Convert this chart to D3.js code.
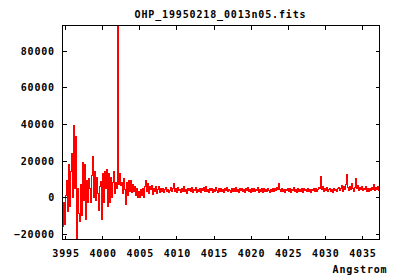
<!DOCTYPE html>
<html>
<head>
<meta charset="utf-8">
<script src="https://cdn.jsdelivr.net/npm/d3@7"></script>
<style>
  html, body { margin: 0; padding: 0; background: #fff; }
  svg { display: block; }
  text { font-family: "DejaVu Sans Mono", monospace; font-weight: bold; font-size: 10px; letter-spacing: 0.85px; fill: #000; }
</style>
</head>
<body>
<script>
// ---- data ----
const titleText = "OHP_19950218_0013n05.fits";
const xLabel = "Angstrom";
const startWave = 3994.6;       // first sample wavelength (Angstrom)
const waveStep = 0.1348;        // linear dispersion (Angstrom per sample)
const xTicks = [3995, 4000, 4005, 4010, 4015, 4020, 4025, 4030, 4035];
const yTicks = [-20000, 0, 20000, 40000, 60000, 80000];
const xDomain = [3994.64, 4037.36];
const yDomain = [-23030, 93750];
const flux = [
  -16000, -3000, -15000, 1000, 9000, -8000, 18000, -5000, 14000, 24000,
  0, 39000, 5000, 33000, -23500, 5000, -9000, -13000, 7000, -10000,
  19000, -2000, 18000, -12000, 9000, -3000, 10000, 5000, -3000, 12000,
  22000, 0, 14000, -2000, 11000, 2000, -7000, 6000, 8500, -12000,
  13000, -3000, 14000, 5000, 15000, -5000, 13000, -3000, 11000, 0,
  8000, 14000, 2000, 8000, 5000, 93700, 7000, 13000, 6700, 8000,
  2000, 10000, 4000, -4000, 8000, 1000, 9000, 3000, 9000, 2500,
  7000, 3000, 6000, 1000, 5000, 0, 3000, 0, 4000, 1000,
  5000, 0, 6000, 9400, 3000, 7800, 2300, 6000, 4000, 6700,
  1300, 5000, 3000, 6000, 2000, 4500, 6000, 2500,
  5000, 3200, 4800, 2600, 4200, 5600, 3000, 4400, 2400, 3800,
  5200, 3400, 4600, 7300, 3000, 4800, 2800, 5400, 3600, 4200,
  2600, 4800, 3400, 5800, 3000, 4400, 2200, 5000, 3800, 4600,
  3000, 5200, 2800, 4200, 3600, 5600, 2600, 4400, 3200, 4800,
  2400, 4600, 3800, 5200, 3000, 6000, 3400, 4200, 2600, 5000,
  3600, 4800, 2800, 4400, 3200, 5400, 3800, 2600, 4600, 3400,
  5000, 3000, 4200, 2400, 4800, 3600, 5200, 3000, 4400, 3800,
  2800, 5000, 3400, 4600, 3000, 5600, 3200, 4200, 2600, 4800,
  3600, 5000, 3000, 4400, 2800, 4600, 3800, 5200, 3200, 4000,
  2600, 4800, 3400, 5000, 3000, 4200, 3600, 5400, 2800, 4400,
  3200, 4600, 2600, 5000, 3400, 4200, 3000, 4800, 3600, 2800,
  4400, 3200, 5000, 3000, 4600, 3800, 5400, 4000, 7600, 4200,
  3400, 4800, 3000, 4400, 2600, 4200, 3600, 5000, 3000, 4600,
  2800, 4400, 3600, 5200, 3200, 4000, 2600, 4800, 3400, 4200,
  3000, 4600, 2800, 5000, 3600, 4200, 3000, 4800, 3400, 4000,
  2800, 4400, 3600, 5000, 3200, 4600, 3000, 4200, 5200, 4800,
  11600, 4400, 5800, 3200, 4600, 3600, 5200, 3000, 4200, 4800,
  3200, 4400, 2800, 5000, 3600, 4200, 3000, 4600, 5400, 3800,
  4600, 6400, 3400, 5800, 4200, 6800, 12200, 5200, 3600, 6000,
  4400, 7800, 5000, 3400, 5600, 10400, 4800, 6600, 3800, 5400,
  4200, 6000, 3600, 5000, 4400, 5800, 3200, 4600, 3000, 4800,
  3600, 5200, 4400, 7100, 3800, 5600, 4200, 5800, 3600, 4800
];

// ---- layout ----
const W = 400, H = 280;
const L = 62.5, R = 379.5, T = 25.5, B = 239.5;

const svg = d3.select("body").append("svg").attr("width", W).attr("height", H);

const x = d3.scaleLinear().domain(xDomain).range([L, R]);
const y = d3.scaleLinear().domain(yDomain).range([B, T]);

const pts = flux.map((v, i) => ({ w: startWave + i * waveStep, f: v }));

svg.append("defs").append("clipPath").attr("id", "clip")
  .append("rect").attr("x", L).attr("y", T).attr("width", R - L).attr("height", B - T);

svg.append("path")
  .datum(pts)
  .attr("clip-path", "url(#clip)")
  .attr("fill", "none")
  .attr("stroke", "#ff0000")
  .attr("stroke-width", 1)
  .attr("shape-rendering", "crispEdges")
  .attr("d", d3.line()
    .x(d => Math.floor(x(d.w)) + 0.5)
    .y(d => Math.floor(y(d.f)) + 0.5)
    .curve(d3.curveStepAfter));

// axes (ticks inward, mirrored)
const gB = svg.append("g").attr("transform", `translate(0,${B})`)
  .call(d3.axisBottom(x).tickValues(xTicks).tickSize(-4).tickFormat(d3.format("d")));
gB.selectAll("text").attr("y", 17.5).attr("dy", 0).attr("dx", "0.4px");
const gT = svg.append("g").attr("transform", `translate(0,${T})`)
  .call(d3.axisTop(x).tickValues(xTicks).tickSize(-4).tickFormat(""));
const gL = svg.append("g").attr("transform", `translate(${L},0)`)
  .call(d3.axisLeft(y).tickValues(yTicks).tickSize(-4).tickFormat(d3.format("d")));
gL.selectAll("text").attr("x", -7.5).attr("dy", "0.36em");
const gR = svg.append("g").attr("transform", `translate(${R},0)`)
  .call(d3.axisRight(y).tickValues(yTicks).tickSize(-4).tickFormat(""));

[gB, gT, gL, gR].forEach(g => {
  g.select(".domain").remove();
  g.selectAll("line").attr("stroke", "#000").attr("shape-rendering", "crispEdges");
  g.selectAll("text").style("font-family", null).style("font-size", null)
    .attr("font-family", null).attr("font-size", null).attr("fill", "#000");
});

// frame
svg.append("rect").attr("x", L).attr("y", T).attr("width", R - L).attr("height", B - T)
  .attr("fill", "none").attr("stroke", "#000").attr("stroke-width", 1)
  .attr("shape-rendering", "crispEdges");

// title and x label
svg.append("text").attr("x", 220.5).attr("y", 18).attr("text-anchor", "middle").text(titleText);
svg.append("text").attr("x", 387.5).attr("y", 273).attr("text-anchor", "end").text(xLabel);
</script>
</body>
</html>
